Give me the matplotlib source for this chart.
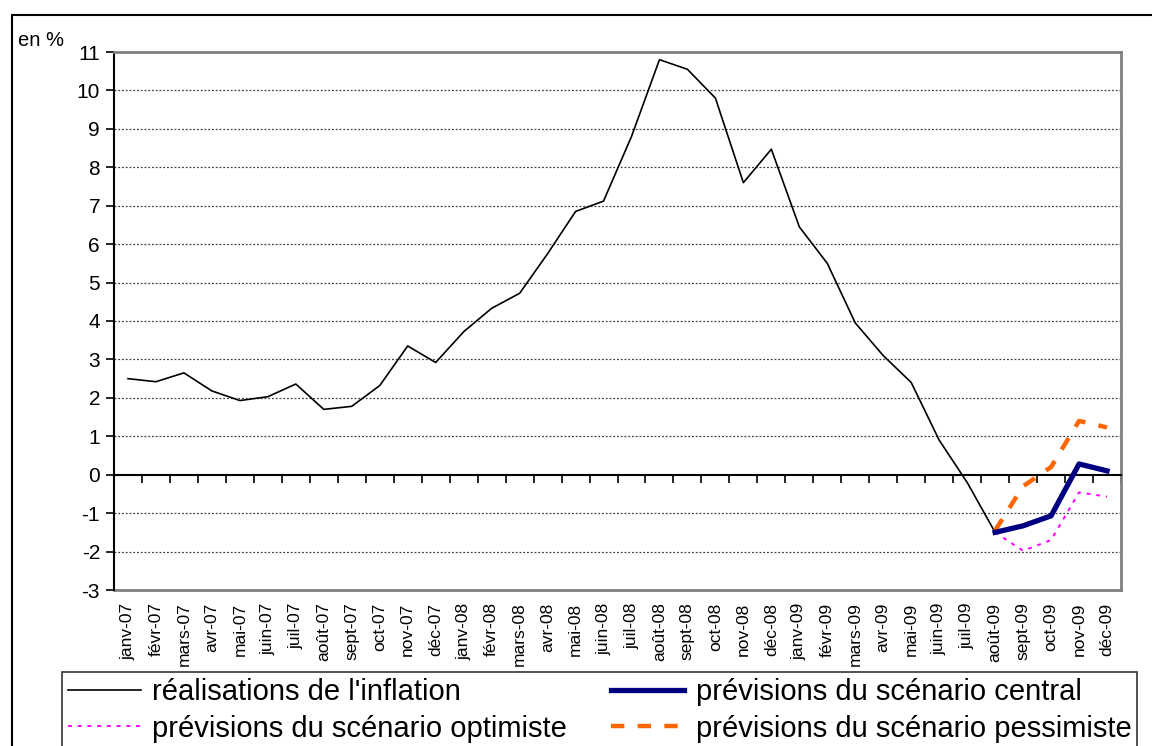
import matplotlib
matplotlib.use("Agg")
import matplotlib.pyplot as plt
from matplotlib.patches import Rectangle
import numpy as np

plt.rcParams['font.family'] = ['Liberation Sans', 'DejaVu Sans']
plt.rcParams['axes.unicode_minus'] = False

mois = ["janv", "févr", "mars", "avr", "mai", "juin", "juil", "août", "sept", "oct", "nov", "déc"]
annees = ["07", "08", "09"]
categories = [m + "-" + a for a in annees for m in mois]

# inflation observée, janv-07 -> août-09
realisations = [2.50, 2.42, 2.65, 2.18, 1.93, 2.03, 2.36, 1.70, 1.78, 2.32, 3.35, 2.92,
                3.72, 4.33, 4.72, 5.75, 6.85, 7.12, 8.80, 10.80, 10.55, 9.80, 7.60, 8.47,
                6.45, 5.50, 3.95, 3.10, 2.40, 0.90, -0.20, -1.50]
# prévisions août-09 -> déc-09
central = [-1.50, -1.33, -1.07, 0.28, 0.10]
optimiste = [-1.50, -1.98, -1.70, -0.46, -0.57]
pessimiste = [-1.45, -0.30, 0.20, 1.40, 1.23]

x = np.arange(len(categories))
x_real = x[:len(realisations)]
x_prev = x[len(realisations) - 1:]

fig = plt.figure(figsize=(11.52, 7.46), dpi=100)
ax = fig.add_axes([114/1152, 1 - 590/746, (1121 - 114)/1152, (590 - 52)/746])

l1, = ax.plot(x_real, realisations, color="black", lw=1.2, label="réalisations de l'inflation")
l2, = ax.plot(x_prev, central, color="#000080", lw=3.8, label="prévisions du scénario central", zorder=4)
l3, = ax.plot(x_prev, optimiste, color="#FF00FF", lw=1.4, ls=(0, (2, 3)), label="prévisions du scénario optimiste")
l4, = ax.plot(x_prev, pessimiste, color="#FF6600", lw=3.2, ls=(0, (3, 3)), label="prévisions du scénario pessimiste")

ax.set_xlim(-0.5, len(categories) - 0.5)
ax.set_ylim(-3, 11)
ax.set_yticks(np.arange(-3, 12, 1))
ax.tick_params(axis='y', labelsize=15, length=6, width=1.2, direction='out', pad=4)
for v in range(-3, 11):
    if v != 0:
        ax.axhline(v, color="#404040", lw=0.9, ls=(0, (1.5, 1.5)), zorder=0)

for s in ["top", "right"]:
    ax.spines[s].set_color("#808080")
    ax.spines[s].set_linewidth(2)
ax.spines["left"].set_linewidth(1.5)
ax.spines["bottom"].set_position(("data", 0))
ax.spines["bottom"].set_linewidth(1.5)
ax.set_xticks(np.arange(-0.5, len(categories), 1))
ax.set_xticklabels([])
ax.tick_params(axis='x', length=6, width=1.2, direction='out')

sec = ax.secondary_xaxis("bottom")
sec.set_xticks(x, categories, rotation=90)
sec.tick_params(length=0, labelsize=12.5, pad=9)
sec.spines["bottom"].set_color("#808080")
sec.spines["bottom"].set_linewidth(2)

fig.text(18/1152, 1 - 40/746, "en %", fontsize=14.5, va="center")

fig.add_artist(Rectangle((12/1152, -0.1), 1.2, (746 - 15)/746 + 0.1, transform=fig.transFigure,
                         fill=False, lw=1.5, ec="black"))

leg = fig.legend([l1, l3, l2, l4], [l.get_label() for l in (l1, l3, l2, l4)],
                 loc="upper left", bbox_to_anchor=(62/1152, 1 - 672/746), ncol=2,
                 fontsize=21, frameon=True, fancybox=False, edgecolor="black",
                 borderaxespad=0, handlelength=2.5, handletextpad=0.4, columnspacing=1.5,
                 labelspacing=0.3, borderpad=0.2)
leg.get_frame().set_linewidth(1.2)

fig.savefig("out.png", dpi=100)
